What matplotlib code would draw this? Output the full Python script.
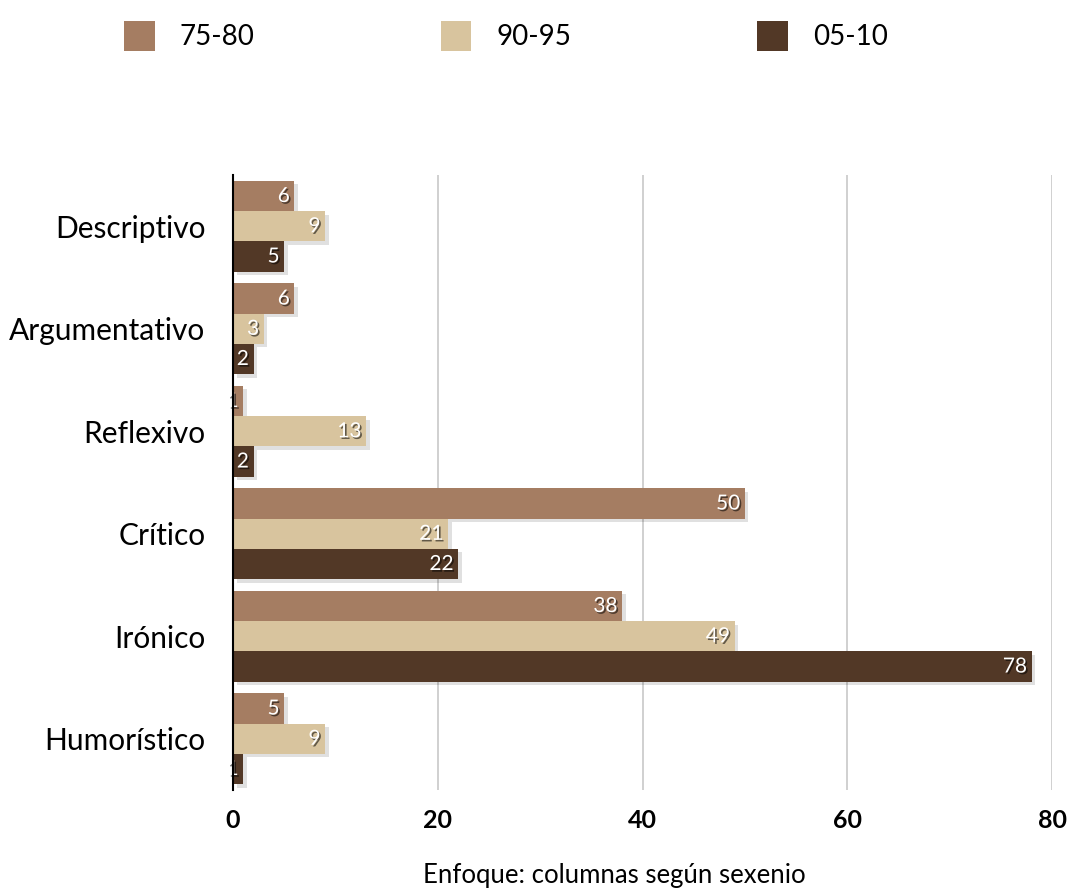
import matplotlib.pyplot as plt
import matplotlib.patheffects as pe
from matplotlib.patches import Patch
import numpy as np

# Enfoque de las columnas por sexenio
categories = ['Descriptivo', 'Argumentativo', 'Reflexivo', 'Crítico', 'Irónico', 'Humorístico']
series_names = ['75-80', '90-95', '05-10']
v_75_80 = [6, 6, 1, 50, 38, 5]
v_90_95 = [9, 3, 13, 21, 49, 9]
v_05_10 = [5, 2, 2, 22, 78, 1]
colors = ['#a57d62', '#d8c49e', '#523826']

plt.rcParams['font.family'] = ['Lato', 'DejaVu Sans']

fig = plt.figure(figsize=(10.72, 8.92), dpi=100)
ax = fig.add_axes([0.2174, 0.1143, 0.764, 0.6895])

y = np.arange(len(categories))
bar_h = 0.295
offsets = [-bar_h, 0, bar_h]
bar_shadow = [pe.SimplePatchShadow(offset=(2.5, -2.5), shadow_rgbFace='#000000', alpha=0.12), pe.Normal()]
text_shadow = [pe.withSimplePatchShadow(offset=(1.2, -1.2), shadow_rgbFace='#000000', alpha=0.55)]

for vals, name, col, off in zip([v_75_80, v_90_95, v_05_10], series_names, colors, offsets):
    bars = ax.barh(y + off, vals, height=bar_h, color=col, zorder=3)
    for b in bars:
        b.set_path_effects(bar_shadow)
    for yi, v in zip(y + off, vals):
        ax.text(v - 0.45, yi, str(v), ha='right', va='center', color='white',
                fontsize=15, zorder=4, clip_on=False, path_effects=text_shadow)

ax.set_ylim(len(categories) - 0.5, -0.5)
ax.set_xlim(0, 80)
ax.set_xticks([0, 20, 40, 60, 80])
ax.set_yticks(y)
ax.set_yticklabels(categories, fontsize=21.5)
for lbl in ax.get_xticklabels():
    lbl.set_fontweight('bold')
    lbl.set_fontsize(18)
ax.tick_params(axis='both', length=0)
ax.tick_params(axis='y', pad=20)
ax.tick_params(axis='x', pad=14)

ax.grid(axis='x', color='#c8c8c8', linewidth=1.2, zorder=0)
ax.set_axisbelow(True)
for s in ['top', 'right', 'bottom']:
    ax.spines[s].set_visible(False)
ax.spines['left'].set_color('black')
ax.spines['left'].set_linewidth(1.5)
ax.spines['left'].set_zorder(5)

ax.set_xlabel('Enfoque: columnas según sexenio', fontsize=18.5)
ax.xaxis.set_label_coords(0.466, -0.118)

handles = [Patch(facecolor=c, edgecolor='none', label=n) for c, n in zip(colors, series_names)]
fig.legend(handles=handles, loc='upper center', bbox_to_anchor=(0.472, 1.005), ncol=3, frameon=False,
           fontsize=20, handlelength=1.1, handleheight=1.3, handletextpad=0.9,
           columnspacing=6.7)

plt.savefig('out.png', dpi=100)
